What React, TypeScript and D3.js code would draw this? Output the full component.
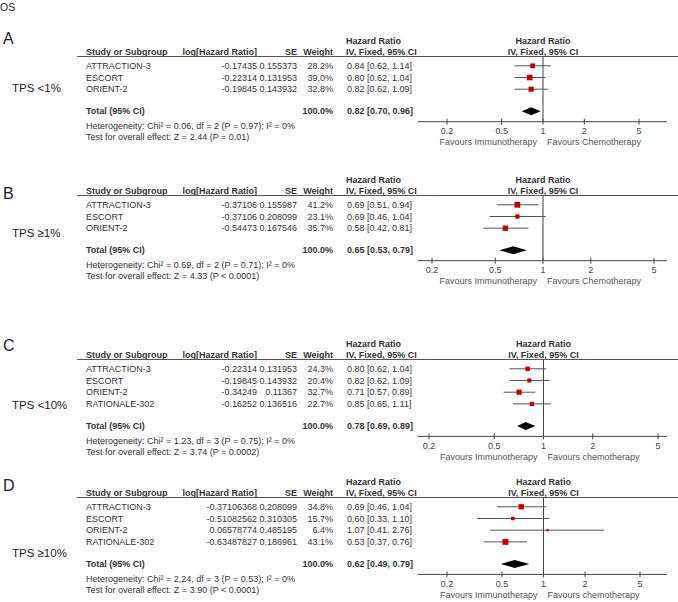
import React from 'react';
import * as d3 from 'd3';

// ---------- DATA ----------
const panelLetters = ['A', 'B', 'C', 'D'];
const tpsLabels = ['TPS <1%', 'TPS \u22651%', 'TPS <10%', 'TPS \u226510%'];
const favoursLeft = ['Favours Immunotherapy', 'Favours Immunotherapy', 'Favours Immunotherapy', 'Favours Immunotherapy'];
const favoursRight = ['Favours Chemotherapy', 'Favours Chemotherapy', 'Favours chemotherapy', 'Favours chemotherapy'];
const axisTicks = [0.2, 0.5, 1, 2, 5];

const studiesA = ['ATTRACTION-3', 'ESCORT', 'ORIENT-2'];
const logHrA = [-0.17435, -0.22314, -0.19845];
const seA = [0.155373, 0.131953, 0.143932];
const weightA = [28.2, 39.0, 32.8];
const hrA = [0.84, 0.80, 0.82];
const lowA = [0.62, 0.62, 0.62];
const highA = [1.14, 1.04, 1.09];
const totalA = [0.82, 0.70, 0.96];
const hetA = 'Heterogeneity: Chi\u00b2 = 0.06, df = 2 (P = 0.97); I\u00b2 = 0%';
const testA = 'Test for overall effect: Z = 2.44 (P = 0.01)';

const studiesB = ['ATTRACTION-3', 'ESCORT', 'ORIENT-2'];
const logHrB = [-0.37106, -0.37106, -0.54473];
const seB = [0.155987, 0.208099, 0.167546];
const weightB = [41.2, 23.1, 35.7];
const hrB = [0.69, 0.69, 0.58];
const lowB = [0.51, 0.46, 0.42];
const highB = [0.94, 1.04, 0.81];
const totalB = [0.65, 0.53, 0.79];
const hetB = 'Heterogeneity: Chi\u00b2 = 0.69, df = 2 (P = 0.71); I\u00b2 = 0%';
const testB = 'Test for overall effect: Z = 4.33 (P < 0.0001)';

const studiesC = ['ATTRACTION-3', 'ESCORT', 'ORIENT-2', 'RATIONALE-302'];
const logHrC = [-0.22314, -0.19845, -0.34249, -0.16252];
const seC = [0.131953, 0.143932, 0.11367, 0.136516];
const weightC = [24.3, 20.4, 32.7, 22.7];
const hrC = [0.80, 0.82, 0.71, 0.85];
const lowC = [0.62, 0.62, 0.57, 0.65];
const highC = [1.04, 1.09, 0.89, 1.11];
const totalC = [0.78, 0.69, 0.89];
const hetC = 'Heterogeneity: Chi\u00b2 = 1.23, df = 3 (P = 0.75); I\u00b2 = 0%';
const testC = 'Test for overall effect: Z = 3.74 (P = 0.0002)';

const studiesD = ['ATTRACTION-3', 'ESCORT', 'ORIENT-2', 'RATIONALE-302'];
const logHrD = [-0.37106368, -0.51082562, 0.06578774, -0.63487827];
const seD = [0.208099, 0.310305, 0.485195, 0.186961];
const weightD = [34.8, 15.7, 6.4, 43.1];
const hrD = [0.69, 0.60, 1.07, 0.53];
const lowD = [0.46, 0.33, 0.41, 0.37];
const highD = [1.04, 1.10, 2.76, 0.76];
const totalD = [0.62, 0.49, 0.79];
const hetD = 'Heterogeneity: Chi\u00b2 = 2.24, df = 3 (P = 0.53); I\u00b2 = 0%';
const testD = 'Test for overall effect: Z = 3.90 (P < 0.0001)';

const panels = [
  { studies: studiesA, logHr: logHrA, se: seA, weight: weightA, hr: hrA, low: lowA, high: highA, total: totalA, het: hetA, test: testA },
  { studies: studiesB, logHr: logHrB, se: seB, weight: weightB, hr: hrB, low: lowB, high: highB, total: totalB, het: hetB, test: testB },
  { studies: studiesC, logHr: logHrC, se: seC, weight: weightC, hr: hrC, low: lowC, high: highC, total: totalC, het: hetC, test: testC },
  { studies: studiesD, logHr: logHrD, se: seD, weight: weightD, hr: hrD, low: lowD, high: highD, total: totalD, het: hetD, test: testD },
];

// ---------- LAYOUT ----------
const W = 678;
const H = 602;
const lineY = [56, 195, 359, 497];
const letterY = [43.7, 199, 351, 490.5];
const tpsY = [92, 237, 409, 557];
// pixel positions of the 0.2 and 5 ticks in each panel
const tickRange: [number, number][] = [[447, 639], [432, 654], [429, 658], [447, 640]];
const axisX0 = 418;
const axisX1 = 667;
const rowStep = 11.7;
const FONT = '"Liberation Sans", Arial, sans-serif';
const TXT = '#333';
const RED = '#c00000';

const fmt2 = (v: number) => v.toFixed(2);

function Panel({ idx }: { idx: number }) {
  const p = panels[idx];
  const L = lineY[idx];
  const x = d3.scaleLog().domain([0.2, 5]).range(tickRange[idx]);
  const rowBase = (i: number) => L + 13 + i * rowStep;
  const totalBase = rowBase(p.studies.length - 1) + 22;
  const axisY = totalBase + 7.3;
  const fs = 9;
  return (
    <g fontFamily={FONT}>
      <text x={3} y={letterY[idx]} fontSize={16} fill="#222">{panelLetters[idx]}</text>
      <text x={12} y={tpsY[idx]} fontSize={11.5} fill="#222">{tpsLabels[idx]}</text>

      {/* headers */}
      <g fontSize={fs} fontWeight="bold" fill={TXT}>
        <text x={86} y={L - 1}>Study or Subgroup</text>
        <text x={257} y={L - 1} textAnchor="end">log[Hazard Ratio]</text>
        <text x={297} y={L - 1} textAnchor="end">SE</text>
        <text x={333} y={L - 1} textAnchor="end">Weight</text>
        <text x={346} y={L - 11.7}>Hazard Ratio</text>
        <text x={346} y={L - 1}>IV, Fixed, 95% CI</text>
        <text x={x(1)} y={L - 11.7} textAnchor="middle">Hazard Ratio</text>
        <text x={x(1)} y={L - 1} textAnchor="middle">IV, Fixed, 95% CI</text>
      </g>
      <line x1={77} x2={W} y1={L + 0.5} y2={L + 0.5} stroke="#555" strokeWidth={1.2} />

      {/* rows */}
      <g fontSize={fs} fill={TXT}>
        {p.studies.map((s, i) => (
          <g key={s + i}>
            <text x={86} y={rowBase(i)}>{s}</text>
            <text x={257} y={rowBase(i)} textAnchor="end">{String(p.logHr[i])}</text>
            <text x={297} y={rowBase(i)} textAnchor="end">{String(p.se[i])}</text>
            <text x={333} y={rowBase(i)} textAnchor="end">{p.weight[i].toFixed(1) + '%'}</text>
            <text x={347} y={rowBase(i)}>{`${fmt2(p.hr[i])} [${fmt2(p.low[i])}, ${fmt2(p.high[i])}]`}</text>
          </g>
        ))}
      </g>

      {/* total */}
      <g fontSize={fs} fill={TXT} fontWeight="bold">
        <text x={86} y={totalBase}>Total (95% CI)</text>
        <text x={333} y={totalBase} textAnchor="end">100.0%</text>
        <text x={347} y={totalBase}>{`${fmt2(p.total[0])} [${fmt2(p.total[1])}, ${fmt2(p.total[2])}]`}</text>
      </g>
      <text x={86} y={totalBase + 14.5} fontSize={fs} fill={TXT}>{p.het}</text>
      <text x={86} y={totalBase + 26} fontSize={fs} fill={TXT}>{p.test}</text>

      {/* null line */}
      <line x1={x(1)} x2={x(1)} y1={L} y2={axisY} stroke="#444" strokeWidth={1} />

      {/* CI lines and squares */}
      {p.studies.map((s, i) => {
        const cy = rowBase(i) - 3.2;
        const sz = 0.9 * Math.sqrt(p.weight[i]);
        return (
          <g key={'m' + i}>
            <line x1={x(p.low[i])} x2={x(p.high[i])} y1={cy} y2={cy} stroke="#555" strokeWidth={1} />
            <rect x={x(p.hr[i]) - sz / 2} y={cy - sz / 2} width={sz} height={sz} fill={RED} />
          </g>
        );
      })}

      {/* diamond */}
      {(() => {
        const cy = totalBase - 3.2;
        const pts = [
          [x(p.total[1]), cy],
          [x(p.total[0]), cy - 4],
          [x(p.total[2]), cy],
          [x(p.total[0]), cy + 4],
        ];
        return <polygon points={pts.map((q) => q.join(',')).join(' ')} fill="#000" />;
      })()}

      {/* axis */}
      <line x1={axisX0} x2={axisX1} y1={axisY} y2={axisY} stroke="#444" strokeWidth={1} />
      {axisTicks.map((t) => (
        <g key={t}>
          <line x1={x(t)} x2={x(t)} y1={axisY - 3} y2={axisY + 3} stroke="#444" strokeWidth={1} />
          <text x={x(t)} y={axisY + 12.5} fontSize={fs} fill="#444" textAnchor="middle">{String(t)}</text>
        </g>
      ))}
      <text x={x(1) - 6} y={axisY + 23.5} fontSize={fs} fill="#555" textAnchor="end">{favoursLeft[idx]}</text>
      <text x={x(1) + 4} y={axisY + 23.5} fontSize={fs} fill="#555">{favoursRight[idx]}</text>
    </g>
  );
}

export default function App() {
  return (
    <svg
      width={W}
      height={H}
      viewBox={`0 0 ${W} ${H}`}
      style={{ position: 'absolute', left: 0, top: 0, background: '#fff' }}
    >
      <rect width={W} height={H} fill="#fff" />
      <text x={0} y={11} fontSize={10.5} fontFamily={FONT} fill="#222">OS</text>
      {panels.map((_, i) => (
        <Panel key={i} idx={i} />
      ))}
    </svg>
  );
}
